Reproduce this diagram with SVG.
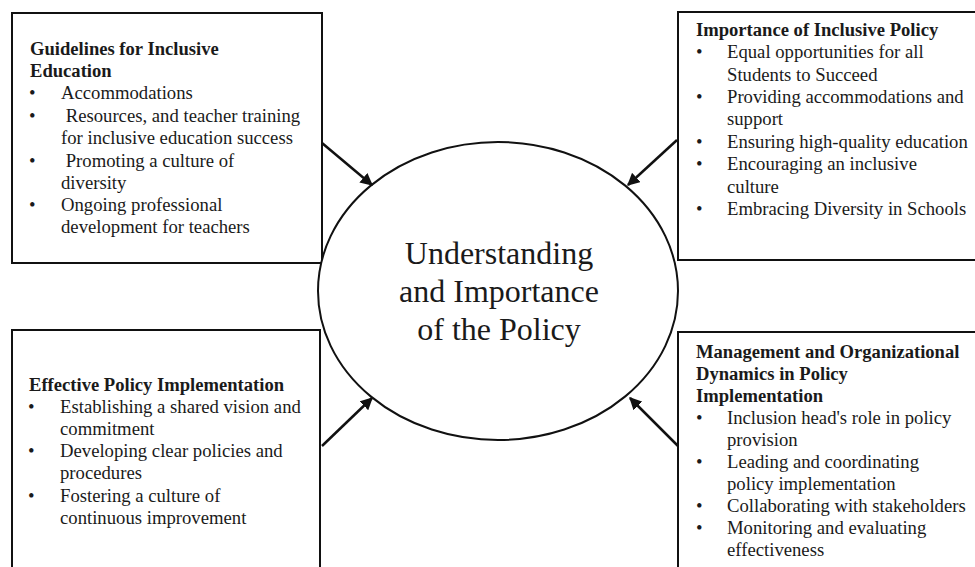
<svg xmlns="http://www.w3.org/2000/svg" width="975" height="567" viewBox="0 0 975 567">
<style>
.box{fill:#fff;stroke:#111;stroke-width:2}
.t{font-family:"Liberation Serif","Times New Roman",serif;font-size:18.7px;fill:#1a1a1a}
.b{font-weight:bold;font-size:18.6px}
.c{font-family:"Liberation Serif","Times New Roman",serif;font-size:32px;fill:#1a1a1a;text-anchor:middle}
.ar{stroke:#111;stroke-width:2.5;fill:none;marker-end:url(#ah)}
</style>
<defs>
<marker id="ah" viewBox="0 0 10 10" refX="9" refY="5" markerWidth="5" markerHeight="5" orient="auto" markerUnits="strokeWidth">
<path d="M0,0 L10,5 L0,10 z" fill="#111"/>
</marker>
</defs>
<rect width="975" height="567" fill="#fff"/>
<g id="guidelines">
<rect class="box" x="12" y="13" width="310" height="250"/>
<text class="t b" x="30" y="55">Guidelines for Inclusive</text>
<text class="t b" x="30" y="77">Education</text>
<text class="t" x="29" y="99">•</text><text class="t" x="61" y="99">Accommodations</text>
<text class="t" x="29" y="122">•</text><text class="t" x="61" y="122" xml:space="preserve"> Resources, and teacher training</text>
<text class="t" x="61" y="144">for inclusive education success</text>
<text class="t" x="29" y="167">•</text><text class="t" x="61" y="167" xml:space="preserve"> Promoting a culture of</text>
<text class="t" x="61" y="189">diversity</text>
<text class="t" x="29" y="211">•</text><text class="t" x="61" y="211">Ongoing professional</text>
<text class="t" x="61" y="233">development for teachers</text>
</g>
<g id="importance">
<rect class="box" x="678" y="12" width="310" height="248"/>
<text class="t b" x="696" y="36">Importance of Inclusive Policy</text>
<text class="t" x="696" y="58">•</text><text class="t" x="727" y="58">Equal opportunities for all</text>
<text class="t" x="727" y="81">Students to Succeed</text>
<text class="t" x="696" y="103">•</text><text class="t" x="727" y="103">Providing accommodations and</text>
<text class="t" x="727" y="125">support</text>
<text class="t" x="696" y="148">•</text><text class="t" x="727" y="148">Ensuring high-quality education</text>
<text class="t" x="696" y="170">•</text><text class="t" x="727" y="170">Encouraging an inclusive</text>
<text class="t" x="727" y="193">culture</text>
<text class="t" x="696" y="215">•</text><text class="t" x="727" y="215">Embracing Diversity in Schools</text>
</g>
<g id="effective">
<rect class="box" x="12" y="330" width="308" height="250"/>
<text class="t b" x="29" y="391">Effective Policy Implementation</text>
<text class="t" x="28" y="413">•</text><text class="t" x="60" y="413">Establishing a shared vision and</text>
<text class="t" x="60" y="435">commitment</text>
<text class="t" x="28" y="457">•</text><text class="t" x="60" y="457">Developing clear policies and</text>
<text class="t" x="60" y="479">procedures</text>
<text class="t" x="28" y="502">•</text><text class="t" x="60" y="502">Fostering a culture of</text>
<text class="t" x="60" y="524">continuous improvement</text>
</g>
<g id="management">
<rect class="box" x="678" y="332" width="310" height="250"/>
<text class="t b" x="696" y="358">Management and Organizational</text>
<text class="t b" x="696" y="380">Dynamics in Policy</text>
<text class="t b" x="696" y="402">Implementation</text>
<text class="t" x="696" y="424">•</text><text class="t" x="727" y="424">Inclusion head's role in policy</text>
<text class="t" x="727" y="446">provision</text>
<text class="t" x="696" y="468">•</text><text class="t" x="727" y="468">Leading and coordinating</text>
<text class="t" x="727" y="490">policy implementation</text>
<text class="t" x="696" y="512">•</text><text class="t" x="727" y="512">Collaborating with stakeholders</text>
<text class="t" x="696" y="534">•</text><text class="t" x="727" y="534">Monitoring and evaluating</text>
<text class="t" x="727" y="556">effectiveness</text>
</g>
<g id="center">
<ellipse cx="498" cy="291" rx="180" ry="149" fill="#fff" stroke="#111" stroke-width="2"/>
<text class="c" x="499" y="264">Understanding</text>
<text class="c" x="499" y="302">and Importance</text>
<text class="c" x="499" y="340">of the Policy</text>
</g>
<g id="connectors">
<line class="ar" x1="322" y1="143" x2="372" y2="185"/>
<line class="ar" x1="677" y1="140" x2="628" y2="185"/>
<line class="ar" x1="322" y1="446" x2="372" y2="398"/>
<line class="ar" x1="678" y1="446" x2="630" y2="398"/>
</g>
</svg>
